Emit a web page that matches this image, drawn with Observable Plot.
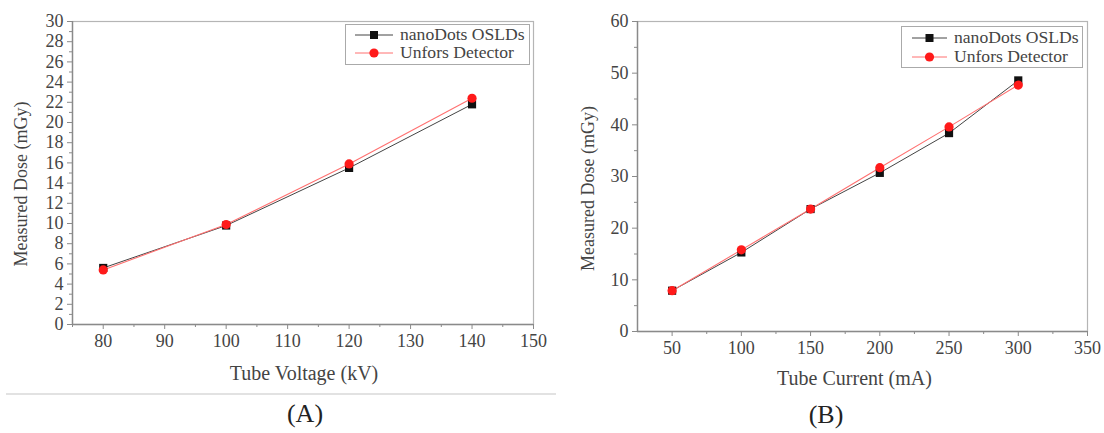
<!DOCTYPE html>
<html>
<head>
<meta charset="utf-8">
<script src="https://cdn.jsdelivr.net/npm/d3@7"></script>
<script src="https://cdn.jsdelivr.net/npm/@observablehq/plot@0.6"></script>
<style>
  html, body { margin: 0; padding: 0; background: #fff; }
  #wrap { position: relative; width: 1104px; height: 433px; overflow: hidden; font-family: "Liberation Serif", "Times New Roman", serif; }
  .panel { position: absolute; top: 0; }
  .legend { position: absolute; border: 1px solid #aaa; background: #fff; color: #444; font-size: 16px; box-sizing: border-box; }
  .legend .row { position: absolute; height: 18px; display: flex; align-items: center; white-space: nowrap; }
  .legend svg { display: block; flex-shrink: 0; }
  .legend span { flex-shrink: 0; display: inline-block; transform: scaleX(1.1); transform-origin: left center; }
  .tag { position: absolute; font-size: 26px; color: #222; transform: translate(-50%, -50%); }
  #sep { position: absolute; left: 6px; top: 393px; width: 550px; height: 2px; background: #e2e2e2; }
</style>
</head>
<body>
<div id="wrap">
  <div id="pa" class="panel" style="left:0px"></div>
  <div id="pb" class="panel" style="left:560px"></div>
  <div id="sep"></div>
  <div class="tag" style="left:305px; top:414px">(A)</div>
  <div class="tag" style="left:826px; top:415px">(B)</div>
</div>
<script>
// ---- Data (A): Tube voltage ----
const voltage = [80, 100, 120, 140];
const voltNano = [5.6, 9.8, 15.5, 21.8];
const voltUnfors = [5.4, 9.9, 15.9, 22.4];
const voltTicks = [80, 90, 100, 110, 120, 130, 140, 150];
const voltMinor = [75, 85, 95, 105, 115, 125, 135, 145];
const doseTicksA = [0, 2, 4, 6, 8, 10, 12, 14, 16, 18, 20, 22, 24, 26, 28, 30];
const doseMinorA = [1, 3, 5, 7, 9, 11, 13, 15, 17, 19, 21, 23, 25, 27, 29];

// ---- Data (B): Tube current ----
const current = [50, 100, 150, 200, 250, 300];
const currNano = [7.9, 15.3, 23.7, 30.7, 38.4, 48.6];
const currUnfors = [7.9, 15.8, 23.7, 31.7, 39.6, 47.7];
const currTicks = [50, 100, 150, 200, 250, 300, 350];
const currMinor = [75, 125, 175, 225, 275, 325];
const doseTicksB = [0, 10, 20, 30, 40, 50, 60];
const doseMinorB = [5, 15, 25, 35, 45, 55];

const seriesNames = ["nanoDots OSLDs", "Unfors Detector"];

const BLACK = "#111";
const RED = "#ff1a1a";
const LINE_BLACK = "#444";
const LINE_RED = "#ff7070";
const AXIS = "#8a8a8a";
const TEXT = "#444";

function panel(cfg) {
  const rows = cfg.xs.map((x, i) => ({x, nano: cfg.nano[i], unfors: cfg.unfors[i]}));
  return Plot.plot({
    width: cfg.width,
    height: cfg.height,
    marginLeft: cfg.ml,
    marginRight: cfg.mr,
    marginTop: cfg.mt,
    marginBottom: cfg.mb,
    style: {fontFamily: '"Liberation Serif", "Times New Roman", serif', fontSize: "18px", color: TEXT, background: "white"},
    x: {domain: cfg.xDomain},
    y: {domain: cfg.yDomain},
    marks: [
      Plot.frame({stroke: "#b5b5b5", strokeWidth: 1.2}),
      Plot.ruleY([cfg.yDomain[0]], {stroke: AXIS, strokeWidth: 1.4}),
      Plot.ruleX([cfg.xDomain[0]], {stroke: AXIS, strokeWidth: 1.4}),
      Plot.axisX({ticks: cfg.xTicks, tickSize: 5, tickPadding: 5, label: null, stroke: AXIS, fill: TEXT, tickFormat: d => String(d)}),
      Plot.axisX({ticks: cfg.xMinor, tickSize: 3, text: null, label: null, stroke: AXIS}),
      Plot.axisY({ticks: cfg.yTicks, tickSize: 5, tickPadding: 4, label: null, stroke: AXIS, fill: TEXT, tickFormat: d => String(d)}),
      Plot.axisY({ticks: cfg.yMinor, tickSize: 3, text: null, label: null, stroke: AXIS}),
      Plot.line(rows, {x: "x", y: "nano", stroke: LINE_BLACK, strokeWidth: 1}),
      Plot.line(rows, {x: "x", y: "unfors", stroke: LINE_RED, strokeWidth: 1.1}),
      Plot.dot(rows, {x: "x", y: "nano", symbol: "square", r: 4.6, fill: BLACK, stroke: "none"}),
      Plot.dot(rows, {x: "x", y: "unfors", symbol: "circle", r: 4.6, fill: RED, stroke: "none"}),
      Plot.text([cfg.xLabel], {frameAnchor: "bottom", textAnchor: "middle", lineAnchor: "middle", text: d => d, dx: cfg.xLabelDx, dy: cfg.xLabelDy, fill: TEXT, fontSize: 20}),
      Plot.text([cfg.yLabel], {frameAnchor: "left", textAnchor: "middle", lineAnchor: "middle", text: d => d, rotate: -90, dx: cfg.yLabelDx, dy: cfg.yLabelDy, fill: TEXT, fontSize: 18})
    ]
  });
}

document.getElementById("pa").append(panel({
  width: 560, height: 390, ml: 72, mr: 27, mt: 21, mb: 66,
  xs: voltage, nano: voltNano, unfors: voltUnfors,
  xDomain: [75, 150], yDomain: [0, 30],
  xTicks: voltTicks, xMinor: voltMinor, yTicks: doseTicksA, yMinor: doseMinorA,
  xLabel: "Tube Voltage (kV)", xLabelDx: 1, xLabelDy: 49,
  yLabel: "Measured Dose (mGy)", yLabelDx: -51, yLabelDy: 11
}));

document.getElementById("pb").append(panel({
  width: 544, height: 395, ml: 77, mr: 17, mt: 21, mb: 64,
  xs: current, nano: currNano, unfors: currUnfors,
  xDomain: [25, 350], yDomain: [0, 60],
  xTicks: currTicks, xMinor: currMinor, yTicks: doseTicksB, yMinor: doseMinorB,
  xLabel: "Tube Current (mA)", xLabelDx: -8, xLabelDy: 47,
  yLabel: "Measured Dose (mGy)", yLabelDx: -49, yLabelDy: 12
}));

// ---- Legends ----
function legend(box) {
  const div = document.createElement("div");
  div.className = "legend";
  Object.assign(div.style, {left: box.left + "px", top: box.top + "px", width: box.width + "px", height: box.height + "px"});
  const styles = [
    {line: LINE_BLACK, fill: BLACK, symbol: "square"},
    {line: LINE_RED, fill: RED, symbol: "circle"}
  ];
  seriesNames.forEach((name, i) => {
    const row = document.createElement("div");
    row.className = "row";
    row.style.top = (box.rows[i] - box.top - 9 - 1) + "px";
    row.style.left = (box.sampleX0 - box.left - 1) + "px";
    const w = box.sampleX1 - box.sampleX0;
    const s = styles[i];
    const sym = s.symbol === "square"
      ? `<rect x="${w / 2 - 4}" y="5" width="8" height="8" fill="${s.fill}"/>`
      : `<circle cx="${w / 2}" cy="9" r="4.6" fill="${s.fill}"/>`;
    row.innerHTML = `<svg width="${w}" height="18"><line x1="0" x2="${w}" y1="9" y2="9" stroke="${s.line}" stroke-width="1"/>${sym}</svg><span style="margin-left:${box.textX - box.sampleX1}px">${name}</span>`;
    div.append(row);
  });
  document.getElementById("wrap").append(div);
}
legend({left: 345, top: 24, width: 185, height: 41, rows: [35, 53], sampleX0: 355, sampleX1: 393, textX: 400});
legend({left: 901, top: 26, width: 182, height: 42, rows: [38, 57], sampleX0: 912, sampleX1: 947, textX: 954});
</script>
</body>
</html>
